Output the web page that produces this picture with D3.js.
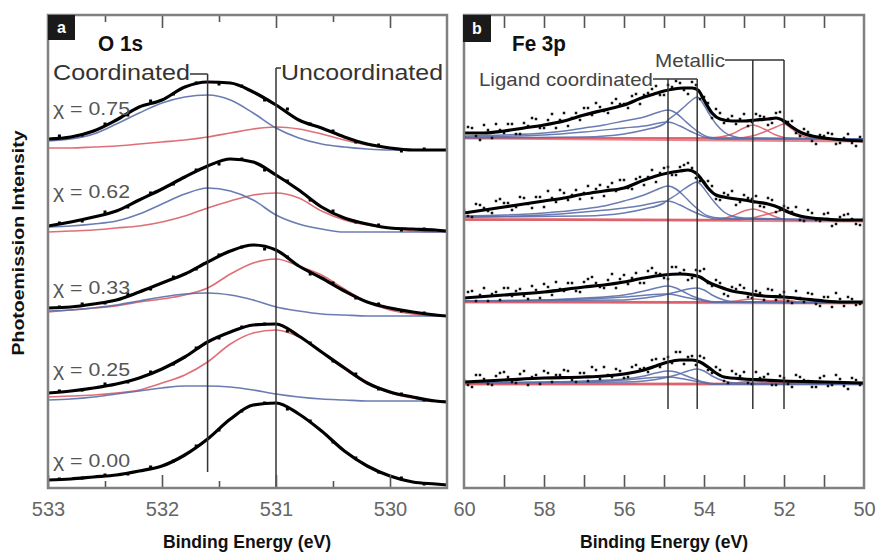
<!DOCTYPE html>
<html>
<head>
<meta charset="utf-8">
<script src="https://cdn.jsdelivr.net/npm/d3@7"></script>
<style>
    body { margin: 0; background: #fff; }
    svg text { font-family: "Liberation Sans", Arial, sans-serif; }
</style>
</head>
<body>
<svg id="chart" width="877" height="555"></svg>
<script>
// ---------- panel a : O 1s ----------
const eO1s = [533.0, 532.8, 532.6, 532.4, 532.2, 532.0, 531.8, 531.6, 531.4, 531.2,
              531.0, 530.8, 530.6, 530.4, 530.2, 530.0, 529.8, 529.6, 529.5];
const eO1sDots = [532.9, 532.7, 532.5, 532.3, 532.1, 531.9, 531.7, 531.5, 531.3,
                  531.1, 530.9, 530.7, 530.5, 530.3, 530.1, 529.9, 529.7];
const chiLabels = ['\u03c7 = 0.75', '\u03c7 = 0.62', '\u03c7 = 0.33', '\u03c7 = 0.25', '\u03c7 = 0.00'];

// fitted envelope, one row per chi value (arb. units)
const o1sFit = [
    [349, 351, 357, 368, 381, 388, 401, 406, 405, 396, 383, 368, 360, 351, 344, 340, 338, 338, 338],
    [262, 266, 271, 277, 288, 299, 311, 322, 329, 326, 313, 298, 281, 270, 264, 260, 259, 258, 257],
    [180, 181, 184, 188, 196, 205, 214, 226, 237, 243, 238, 222, 210, 197, 186, 180, 176, 173, 172],
    [95, 97, 100, 104, 110, 119, 131, 146, 156, 163, 164, 152, 136, 120, 105, 96, 91, 87, 86],
    [8, 9, 11, 13, 17, 22, 33, 49, 69, 83, 85, 74, 57, 37, 22, 12, 6, 4, 3]
];
// coordinated component (blue)
const o1sCoord = [
    [347, 349, 354, 364, 375, 385, 391, 393, 388, 375, 360, 350, 344, 341, 339, 338, 338, 338, 338],
    [261, 262, 264, 267, 274, 284, 294, 300, 297, 288, 273, 264, 259, 256, 256, 256, 256, 256, 256],
    [177, 178, 180, 183, 187, 191, 194, 195, 193, 188, 181, 177, 174, 173, 172, 172, 172, 172, 172],
    [88, 89, 91, 94, 97, 100, 102, 102, 101, 98, 94, 91, 89, 88, 87, 87, 87, 87, 87]
];
// uncoordinated component (red)
const o1sUncoord = [
    [340, 340, 341, 342, 344, 346, 348, 351, 355, 359, 361, 359, 354, 348, 343, 340, 338, 338, 338],
    [256, 257, 258, 260, 262, 266, 272, 280, 287, 293, 295, 290, 277, 268, 263, 260, 257, 256, 256],
    [176, 178, 180, 182, 186, 189, 193, 200, 214, 225, 229, 222, 213, 199, 186, 178, 174, 172, 172],
    [91, 92, 93, 95, 98, 105, 113, 126, 144, 155, 158, 151, 136, 121, 106, 95, 90, 87, 86]
];
// measured points
const o1sDots = [
    [352, 353, 364, 373, 387, 394, 405, 404, 402, 388, 379, 364, 357, 346, 343, 337, 339],
    [265, 267, 276, 281, 295, 304, 318, 324, 329, 318, 307, 288, 277, 266, 263, 258, 259],
    [181, 184, 185, 194, 199, 211, 219, 233, 241, 239, 231, 214, 205, 190, 184, 177, 175],
    [97, 98, 104, 106, 116, 124, 140, 150, 161, 164, 157, 145, 127, 114, 99, 94, 88],
    [9, 10, 13, 14, 21, 27, 42, 58, 77, 85, 79, 67, 46, 30, 16, 10, 4]
];

// ---------- panel b : Fe 3p ----------
// curves as [binding energy, intensity]
const feFit = [
    [[60,355],[59.5,355],[59,357],[58.5,360],[58,363],[57.5,367],[57,373],[56.5,378],[56,383],[55.5,391],[55.25,394],[55,397],[54.75,399],[54.5,400],[54.3,400],[54.15,398],[54.0,388],[53.8,375],[53.6,369],[53.3,367],[53,367],[52.7,368],[52.4,369],[52.2,370],[52.0,367],[51.8,361],[51.6,356],[51.3,352],[51,350],[50.5,348],[50,347]],
    [[60,275],[59.5,278],[59,281],[58.5,284],[58,287],[57.5,290],[57,294],[56.5,297],[56,300],[55.5,308],[55.2,312],[54.9,315],[54.6,317],[54.4,318],[54.2,315],[54.05,308],[53.9,300],[53.7,293],[53.5,291],[53.2,289],[53,288],[52.7,286],[52.4,284],[52.1,280],[51.9,276],[51.6,272],[51.3,270],[51,269],[50.5,268],[50,268]],
    [[60,190],[59,193],[58,196],[57,201],[56.5,203],[56,206],[55.5,210],[55,213],[54.6,214],[54.3,213],[54.1,211],[53.9,206],[53.6,201],[53.3,197],[53,195],[52.5,192],[52,191],[51.5,189],[51,187],[50.5,186],[50,186]],
    [[60,106],[59,108],[58,110],[57,111],[56.5,112],[56,114],[55.5,118],[55.2,122],[54.9,126],[54.6,128],[54.3,128],[54.1,126],[53.9,121],[53.7,115],[53.5,111],[53,109],[52.5,108],[52,107],[51,106],[50,105]]
];
const feLigandA = [
    [[60,352],[59,353],[58,355],[57.5,357],[57,360],[56.5,363],[56,367],[55.5,371],[55.2,375],[54.9,378],[54.7,375],[54.5,368],[54.3,361],[54.1,355],[53.9,351],[53.6,350],[50,349]],
    [[60,272],[59,273],[58,275],[57,279],[56.5,282],[56,287],[55.5,293],[55.2,298],[54.9,302],[54.7,299],[54.5,292],[54.3,284],[54.1,277],[53.9,272],[53.6,270],[50,268]],
    [[60,187],[58,188],[57,190],[56,193],[55.5,197],[55.2,200],[54.9,202],[54.7,200],[54.5,196],[54.3,192],[54.0,188],[53.7,186],[50,185]],
    [[60,105],[58,106],[57,107],[56,109],[55.5,112],[55.2,115],[54.9,117],[54.7,116],[54.5,113],[54.3,110],[54.0,106],[53.7,104],[50,104]]
];
const feLigandB = [
    [[60,350],[57,351],[56,354],[55.5,358],[55,364],[54.9,368],[54.7,374],[54.5,381],[54.3,388],[54.17,391],[54.05,386],[53.9,376],[53.7,364],[53.5,356],[53.3,352],[53,350],[50,349]],
    [[60,271],[57,272],[56,275],[55.5,279],[55,285],[54.9,288],[54.7,293],[54.5,299],[54.3,304],[54.17,306],[54.05,302],[53.9,294],[53.7,284],[53.5,276],[53.3,272],[53,270],[50,268]],
    [[60,187],[56,188],[55.5,190],[55,193],[54.7,196],[54.4,199],[54.17,200],[54.0,198],[53.8,193],[53.5,188],[53.2,186],[50,185]],
    [[60,105],[56,106],[55.5,107],[55,110],[54.7,113],[54.4,117],[54.17,119],[54.0,117],[53.8,112],[53.5,107],[53.2,105],[50,104]]
];
const feLigandC = [
    [[60,351],[58,353],[57,356],[56,360],[55.5,362],[54.9,366],[54.6,362],[54.3,356],[54.0,351],[53.7,349],[50,349]],
    [[60,271],[58,273],[57,276],[56,280],[55.5,283],[54.9,287],[54.6,283],[54.3,277],[54.0,272],[53.7,269],[50,268]],
    [[60,187],[57,189],[56,191],[55,194],[54.9,194],[54.5,191],[54.1,188],[53.8,186],[50,185]],
    [[60,105],[57,106],[56,108],[55,111],[54.9,111],[54.5,109],[54.1,106],[53.8,104],[50,104]]
];
const feMetalA = [
    [[60,350],[54,350],[53.6,351],[53.3,354],[53.0,360],[52.78,363],[52.5,359],[52.2,353],[51.9,350],[50,348]],
    [[60,268],[54,268],[53.6,269],[53.3,272],[53,277],[52.78,279],[52.5,276],[52.2,271],[51.9,268],[50,267]],
    [[60,186],[53.6,186],[53.2,187],[52.78,189],[52.3,187],[52.0,186],[50,185]],
    [[60,104],[53.6,104],[53.2,105],[52.78,107],[52.3,105],[52.0,104],[50,104]]
];
const feMetalB = [
    [[60,350],[53.2,350],[52.8,352],[52.5,356],[52.2,361],[52.0,364],[51.8,359],[51.6,353],[51.3,350],[50,348]],
    [[60,268],[53.2,268],[52.8,270],[52.5,273],[52.2,276],[52,278],[51.8,275],[51.6,271],[51.3,268],[50,267]],
    [[60,186],[52.8,186],[52.3,187],[52.0,188],[51.6,186],[50,185]],
    [[60,104],[52.8,104],[52.3,105],[52.0,106],[51.6,104],[50,104]]
];
const feBackground = [
    [[60,350],[50,347]],
    [[60,269],[50,267]],
    [[60,186],[50,185]],
    [[60,104],[50,104]]
];
// measured points, two interleaved energy sets
const feDotE = [60.0, 59.8, 59.6, 59.4, 59.2, 59.0, 58.8, 58.6, 58.4, 58.2, 58.0, 57.8, 57.6,
                57.4, 57.2, 57.0, 56.8, 56.6, 56.4, 56.2, 56.0, 55.8, 55.6, 55.4, 55.2, 55.0,
                54.8, 54.6, 54.4, 54.2, 54.0, 53.8, 53.6, 53.4, 53.2, 53.0, 52.8, 52.6, 52.4,
                52.2, 52.0, 51.8, 51.6, 51.4, 51.2, 51.0, 50.8, 50.6, 50.4, 50.2, 50.0];
const feDots = [
    [351, 360, 348, 358, 364, 355, 364, 354, 362, 369, 360, 374, 368, 362, 375, 380, 373, 381, 375, 389, 384, 392, 384, 395, 402, 393, 401, 405, 394, 403, 391, 370, 375, 369, 364, 374, 366, 372, 363, 375, 366, 367, 352, 356, 344, 352, 354, 345, 354, 342, 348],
    [278, 271, 283, 277, 287, 285, 278, 291, 284, 291, 281, 290, 298, 288, 298, 295, 290, 303, 301, 297, 308, 299, 311, 311, 306, 320, 313, 321, 325, 310, 306, 302, 288, 293, 283, 293, 289, 282, 290, 276, 282, 276, 268, 278, 268, 274, 262, 271, 274, 264, 270],
    [187, 197, 193, 187, 196, 200, 192, 199, 189, 198, 204, 193, 199, 205, 197, 206, 211, 201, 208, 200, 213, 210, 205, 217, 215, 210, 221, 215, 208, 218, 219, 202, 205, 192, 199, 200, 190, 195, 199, 188, 196, 185, 190, 195, 184, 191, 181, 189, 191, 183, 188],
    [108, 101, 113, 104, 112, 116, 106, 114, 103, 113, 117, 106, 113, 117, 106, 115, 121, 109, 113, 119, 110, 121, 119, 116, 129, 129, 125, 136, 131, 123, 130, 115, 118, 105, 114, 116, 104, 110, 114, 103, 110, 101, 111, 107, 101, 112, 103, 109, 99, 108, 110]
];
const feDotE2 = [59.9, 59.7, 59.5, 59.3, 59.1, 58.9, 58.7, 58.5, 58.3, 58.1, 57.9, 57.7, 57.5,
                 57.3, 57.1, 56.9, 56.7, 56.5, 56.3, 56.1, 55.9, 55.7, 55.5, 55.3, 55.1, 54.9,
                 54.7, 54.5, 54.3, 54.1, 53.9, 53.7, 53.5, 53.3, 53.1, 52.9, 52.7, 52.5, 52.3,
                 52.1, 51.9, 51.7, 51.5, 51.3, 51.1, 50.9, 50.7, 50.5, 50.3, 50.1];
const feDots2 = [
    [361, 352, 363, 350, 358, 364, 354, 365, 370, 360, 368, 360, 375, 370, 368, 380, 385, 377, 385, 384, 380, 394, 393, 399, 393, 403, 407, 398, 406, 389, 385, 379, 365, 372, 369, 362, 374, 371, 365, 376, 366, 355, 359, 347, 353, 355, 344, 350, 345, 351],
    [272, 284, 280, 275, 289, 285, 281, 290, 280, 291, 297, 286, 295, 293, 289, 302, 299, 292, 305, 308, 300, 309, 303, 318, 315, 321, 313, 323, 320, 307, 307, 289, 295, 297, 286, 290, 292, 281, 288, 278, 280, 281, 267, 275, 267, 275, 264, 273, 269, 263],
    [196, 187, 200, 194, 188, 200, 197, 192, 202, 190, 201, 206, 197, 205, 196, 209, 205, 200, 214, 209, 204, 215, 205, 220, 214, 209, 221, 218, 210, 217, 205, 208, 194, 201, 203, 191, 197, 188, 198, 193, 187, 197, 186, 194, 182, 191, 195, 182, 189, 184],
    [103, 113, 109, 103, 115, 111, 105, 117, 111, 104, 115, 113, 118, 108, 115, 107, 118, 121, 111, 117, 111, 123, 120, 128, 121, 131, 136, 124, 132, 132, 118, 121, 107, 117, 112, 105, 116, 111, 103, 112, 104, 113, 108, 101, 110, 102, 113, 102, 110, 103]
];

// axis ticks
const o1sMajor = [533, 532, 531, 530];
const o1sMinor = [532.5, 531.5, 530.5];
const feTicks = [59, 58, 57, 56, 55, 54, 53, 52, 51];
const feLabels = [60, 58, 56, 54, 52, 50];

// ---------- set up ----------
const svg = d3.select('#chart');
const plotTop = 15, plotBottom = 488;
const colBlue = '#5a6ea8', colRed = '#dc5f68', colFrame = '#808080';

const yScale = d3.scaleLinear().domain([0, 473]).range([plotBottom, plotTop]);
const xO = d3.scaleLinear().domain([533, 529.5]).range([48, 447]);
const xFe = d3.scaleLinear().domain([60, 50]).range([464, 864]);

const defs = svg.append('defs');
defs.append('clipPath').attr('id', 'clipA')
    .append('rect').attr('x', 48).attr('y', plotTop).attr('width', 399).attr('height', plotBottom - plotTop);
defs.append('clipPath').attr('id', 'clipB')
    .append('rect').attr('x', 464).attr('y', plotTop).attr('width', 400).attr('height', plotBottom - plotTop);

// line for the shared O 1s energy grid
const lineO = d3.line()
    .x((d, i) => xO(eO1s[i]))
    .y(d => yScale(d))
    .curve(d3.curveMonotoneX);
// line for [energy, value] pairs
const lineFe = d3.line()
    .x(d => xFe(d[0]))
    .y(d => yScale(d[1]))
    .curve(d3.curveMonotoneX);

let addPath = (g, d, colour, w, op) => {
    g.append('path')
        .attr('d', d)
        .attr('fill', 'none')
        .attr('stroke', colour)
        .attr('stroke-width', w)
        .attr('stroke-opacity', op || 1)
        .attr('stroke-linejoin', 'round');
};

// small square markers for measured points
let addDots = (g, xs, energies, vals, size, colour) => {
    g.selectAll(null)
        .data(vals)
        .enter()
        .append('rect')
            .attr('x', (d, i) => xs(energies[i]) - size / 2)
            .attr('y', d => yScale(d) - size / 2)
            .attr('width', size)
            .attr('height', size)
            .attr('fill', colour);
};

//************* PANEL A *************//
const gA = svg.append('g').attr('clip-path', 'url(#clipA)');
o1sUncoord.forEach(s => addPath(gA, lineO(s), colRed, 1.6, 0.9));
o1sCoord.forEach(s => addPath(gA, lineO(s), colBlue, 1.6, 0.9));
o1sFit.forEach(s => addPath(gA, lineO(s), '#000', 3.2));
o1sDots.forEach(s => addDots(gA, xO, eO1sDots, s, 3, '#000'));

//************* PANEL B *************//
const gB = svg.append('g').attr('clip-path', 'url(#clipB)');
feBackground.forEach(s => addPath(gB, lineFe(s), colRed, 3, 0.75));
feMetalA.forEach(s => addPath(gB, lineFe(s), colRed, 1.5, 0.9));
feMetalB.forEach(s => addPath(gB, lineFe(s), colRed, 1.5, 0.9));
feLigandC.forEach(s => addPath(gB, lineFe(s), colBlue, 1.5, 0.9));
feLigandA.forEach(s => addPath(gB, lineFe(s), colBlue, 1.5, 0.9));
feLigandB.forEach(s => addPath(gB, lineFe(s), colBlue, 1.5, 0.9));
feDots.forEach(s => addDots(gB, xFe, feDotE, s, 2.5, '#111'));
feDots2.forEach(s => addDots(gB, xFe, feDotE2, s, 2.5, '#111'));
feFit.forEach(s => addPath(gB, lineFe(s), '#000', 3.2));

//************* REFERENCE LINES *************//
let vline = (x, y1, y2) => {
    svg.append('line')
        .attr('x1', x).attr('x2', x)
        .attr('y1', y1).attr('y2', y2)
        .attr('stroke', '#333')
        .attr('stroke-width', 1.5);
};
let hline = (x1, x2, yy) => {
    svg.append('line')
        .attr('x1', x1).attr('x2', x2)
        .attr('y1', yy).attr('y2', yy)
        .attr('stroke', '#333')
        .attr('stroke-width', 1.5);
};
vline(xO(531.6), 74, 472);
hline(190, xO(531.6), 74);
vline(xO(531.0), 68, plotBottom);
hline(xO(531.0), xO(531.0) + 5, 68);

hline(653, xFe(54.17), 79);
vline(xFe(54.9), 79, 409);
vline(xFe(54.17), 79, 409);
hline(725, xFe(52.0), 60);
vline(xFe(52.78), 60, 409);
vline(xFe(52.0), 60, 409);

//************** AXES ******************//
let styleAxis = (g) => {
    g.select('.domain').remove();
    g.selectAll('.tick line').attr('stroke', '#555').attr('stroke-width', 1.6);
    g.selectAll('.tick text')
        .attr('fill', '#666')
        .style('font-size', '20px')
        .style('font-family', '"Liberation Sans", Arial, sans-serif');
};

// panel a ticks
svg.append('g').attr('transform', `translate(0,${plotBottom})`)
    .call(d3.axisBottom(xO).tickValues(o1sMajor).tickSize(-13).tickPadding(14).tickFormat(d3.format('d')))
    .call(styleAxis);
svg.append('g').attr('transform', `translate(0,${plotBottom})`)
    .call(d3.axisBottom(xO).tickValues(o1sMinor).tickSize(-7).tickFormat(''))
    .call(styleAxis);
svg.append('g').attr('transform', `translate(0,${plotTop})`)
    .call(d3.axisTop(xO).tickValues(o1sMajor).tickSize(-13).tickFormat(''))
    .call(styleAxis);
svg.append('g').attr('transform', `translate(0,${plotTop})`)
    .call(d3.axisTop(xO).tickValues(o1sMinor).tickSize(-7).tickFormat(''))
    .call(styleAxis);

// panel b ticks
svg.append('g').attr('transform', `translate(0,${plotBottom})`)
    .call(d3.axisBottom(xFe).tickValues(feTicks).tickSize(-13).tickFormat(''))
    .call(styleAxis);
svg.append('g').attr('transform', `translate(0,${plotBottom})`)
    .call(d3.axisBottom(xFe).tickValues(feLabels).tickSize(0).tickPadding(14).tickFormat(d3.format('d')))
    .call(styleAxis);
svg.append('g').attr('transform', `translate(0,${plotTop})`)
    .call(d3.axisTop(xFe).tickValues(feTicks).tickSize(-13).tickFormat(''))
    .call(styleAxis);

// frames
[[48, 447], [464, 864]].forEach(f => {
    svg.append('rect')
        .attr('x', f[0]).attr('y', plotTop)
        .attr('width', f[1] - f[0]).attr('height', plotBottom - plotTop)
        .attr('fill', 'none')
        .attr('stroke', colFrame)
        .attr('stroke-width', 2.5);
});

//************* TEXT *************//
let label = (txt, x, yy, size, opts) => {
    let t = svg.append('text')
        .attr('x', x).attr('y', yy)
        .style('font-size', size + 'px')
        .attr('fill', opts.fill || '#222')
        .style('font-weight', opts.bold ? 'bold' : 'normal')
        .text(txt);
    if (opts.len) t.attr('textLength', opts.len).attr('lengthAdjust', 'spacingAndGlyphs');
    if (opts.anchor) t.attr('text-anchor', opts.anchor);
    return t;
};

// panel letters
svg.append('rect').attr('x', 48).attr('y', plotTop).attr('width', 27).attr('height', 25).attr('fill', '#1a1a1a');
svg.append('rect').attr('x', 463).attr('y', plotTop).attr('width', 28).attr('height', 27).attr('fill', '#1a1a1a');
label('a', 61.5, 33, 16, {fill: '#fff', bold: true, anchor: 'middle'});
label('b', 477, 34, 16, {fill: '#fff', bold: true, anchor: 'middle'});

label('O 1s', 98, 51, 22, {fill: '#111', bold: true, len: 45});
label('Fe 3p', 512, 51, 22, {fill: '#111', bold: true, len: 54});

label('Coordinated', 53, 80, 22, {fill: '#333', len: 137});
label('Uncoordinated', 281, 80, 22, {fill: '#333', len: 162});
label('Ligand coordinated', 479, 86, 19, {fill: '#444', len: 174});
label('Metallic', 655, 67, 19, {fill: '#444', len: 70});

const chiY = [115, 198, 294, 376, 467];
chiLabels.forEach((c, i) => label(c, 53, chiY[i], 19, {fill: '#555', len: 77}));

// axis titles
label('Binding Energy (eV)', 247, 548, 18, {fill: '#111', bold: true, anchor: 'middle', len: 168});
label('Binding Energy (eV)', 664, 548, 18, {fill: '#111', bold: true, anchor: 'middle', len: 168});
label('Photoemission Intensity', 0, 0, 17, {fill: '#111', bold: true, anchor: 'middle', len: 225})
    .attr('transform', 'translate(24,243) rotate(-90)');
</script>
</body>
</html>
